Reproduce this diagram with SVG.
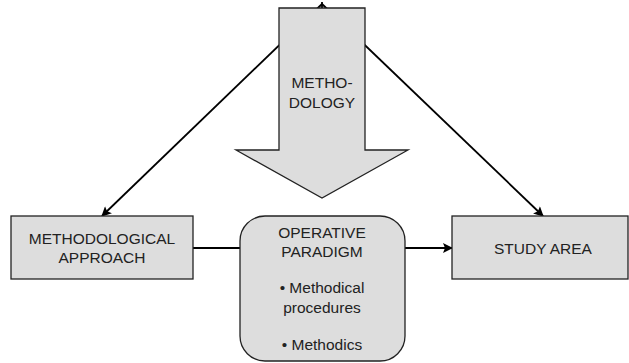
<svg xmlns="http://www.w3.org/2000/svg" width="629" height="363" viewBox="0 0 629 363">
<style>
.box{fill:#dddddd;stroke:#222;stroke-width:1.3}
.t{font-family:"Liberation Sans",Arial,sans-serif;font-size:15.5px;fill:#222;text-anchor:middle}
.c{stroke:#000;stroke-width:1.8;fill:none}
</style>
<defs>
<marker id="ah2" viewBox="0 0 10 10" refX="9" refY="5" markerWidth="11" markerHeight="10" orient="auto" markerUnits="userSpaceOnUse">
<path d="M0,0 L10,5 L0,10 L2,5 z" fill="#000"/>
</marker>
</defs>
<g id="connectors">
<line class="c" x1="322" y1="2" x2="322" y2="8"/>
<line class="c" x1="322" y1="4" x2="102" y2="216" marker-end="url(#ah2)"/>
<line class="c" x1="322" y1="4" x2="543" y2="216" marker-end="url(#ah2)"/>
<line class="c" x1="193" y1="248" x2="240" y2="248"/>
<line class="c" x1="405" y1="248" x2="452" y2="248" marker-end="url(#ah2)"/>
</g>
<g id="methodology">
<path class="box" d="M279,8 H365 V150 H408 L322,198 L236,150 H279 Z"/>
<text class="t" x="322" y="88">METHO-</text>
<text class="t" x="322" y="108">DOLOGY</text>
</g>
<g id="approach">
<rect class="box" x="11" y="216" width="182" height="63"/>
<text class="t" x="102" y="244">METHODOLOGICAL</text>
<text class="t" x="102" y="263">APPROACH</text>
</g>
<g id="paradigm">
<rect class="box" x="240" y="216" width="165" height="145" rx="25" ry="25"/>
<text class="t" x="322" y="238">OPERATIVE</text>
<text class="t" x="322" y="257">PARADIGM</text>
<text class="t" x="322" y="293">• Methodical</text>
<text class="t" x="322" y="313">procedures</text>
<text class="t" x="322" y="350">• Methodics</text>
</g>
<g id="study">
<rect class="box" x="452" y="216" width="176" height="63"/>
<text class="t" x="543" y="254">STUDY AREA</text>
</g>
</svg>
